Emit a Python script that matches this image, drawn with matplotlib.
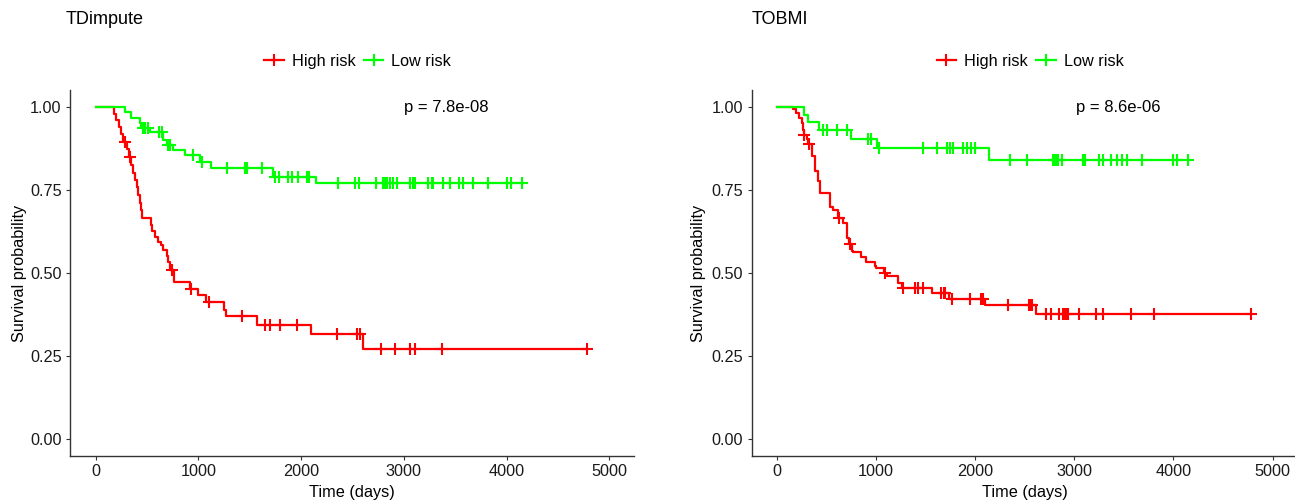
import numpy as np
import matplotlib
matplotlib.use("Agg")
import matplotlib.pyplot as plt
from matplotlib.lines import Line2D

plt.rcParams['font.family'] = ['Liberation Sans', 'DejaVu Sans']

RED = "#FF0000"
GREEN = "#00FF00"

# ---- TDimpute ----
tdi_high_t = [0, 175, 200, 225, 250, 270, 300, 320, 345, 365, 380, 400, 415, 430, 440, 450,
              535, 545, 575, 610, 640, 660, 690, 705, 725, 765, 920, 1000, 1075, 1245, 1270,
              1570, 2095, 2605]
tdi_high_s = [1.0, 0.98, 0.96, 0.94, 0.92, 0.895, 0.875, 0.85, 0.825, 0.80, 0.78, 0.76, 0.735,
              0.71, 0.69, 0.666, 0.645, 0.626, 0.61, 0.595, 0.585, 0.57, 0.55, 0.532, 0.51,
              0.474, 0.452, 0.433, 0.413, 0.39, 0.37, 0.345, 0.315, 0.272]
tdi_high_cens = [285, 330, 740, 925, 1100, 1420, 1650, 1695, 1790, 1960, 2345, 2540, 2570,
                 2780, 2915, 3055, 3110, 3370, 4780]

tdi_low_t = [0, 285, 344, 431, 445, 529, 658, 690, 755, 869, 1015, 1120, 1723, 2145]
tdi_low_s = [1.0, 0.985, 0.966, 0.952, 0.937, 0.924, 0.902, 0.887, 0.87, 0.854, 0.834,
             0.816, 0.79, 0.771]
tdi_low_cens = [463, 483, 512, 616, 643, 707, 723, 944, 1032, 1275, 1453, 1470, 1616, 1745,
                1784, 1875, 1908, 1972, 2054, 2079, 2362, 2524, 2566, 2729, 2794, 2816, 2839,
                2865, 2897, 2936, 3060, 3086, 3108, 3238, 3271, 3286, 3384, 3449, 3540, 3573,
                3676, 3822, 4001, 4040, 4150]

# ---- TOBMI ----
tob_high_t = [0, 167, 195, 228, 252, 270, 275, 302, 318, 353, 386, 419, 437, 537, 571, 620,
              671, 706, 730, 756, 772, 847, 900, 913, 990, 1001, 1080, 1109, 1226, 1260, 1564,
              1737, 2099, 2614]
tob_high_s = [1.0, 0.995, 0.982, 0.967, 0.952, 0.93, 0.915, 0.904, 0.89, 0.852, 0.807, 0.777,
              0.742, 0.70, 0.69, 0.667, 0.652, 0.607, 0.587, 0.566, 0.562, 0.547, 0.533, 0.532,
              0.521, 0.516, 0.50, 0.491, 0.471, 0.456, 0.441, 0.423, 0.403, 0.378]
tob_high_cens = [278, 326, 631, 739, 1090, 1270, 1394, 1427, 1472, 1655, 1682, 1697, 1770,
                 1949, 2060, 2077, 2335, 2546, 2560, 2577, 2717, 2765, 2846, 2889, 2906, 2923,
                 2940, 3047, 3219, 3286, 3571, 3806, 4778]

tob_low_t = [0, 275, 319, 429, 746, 1014, 2143]
tob_low_s = [1.0, 0.977, 0.955, 0.93, 0.903, 0.877, 0.84]
tob_low_cens = [470, 510, 611, 712, 923, 948, 1034, 1472, 1613, 1714, 1747, 1780, 1875, 1915,
                1959, 1999, 2352, 2526, 2782, 2795, 2815, 2839, 2873, 3085, 3108, 3252, 3286,
                3370, 3427, 3478, 3528, 3679, 3992, 4032, 4149]

panels = [
    ("TDimpute", "p = 7.8e-08", 3417, (tdi_high_t, tdi_high_s, tdi_high_cens),
     (tdi_low_t, tdi_low_s, tdi_low_cens)),
    ("TOBMI", "p = 8.6e-06", 3440, (tob_high_t, tob_high_s, tob_high_cens),
     (tob_low_t, tob_low_s, tob_low_cens)),
]

W, H = 1295, 503
fig = plt.figure(figsize=(W / 100, H / 100), dpi=100)
# axes boxes in pixels: left, right, top, bottom
boxes = [(70, 634.3, 90.4, 455.7), (751.7, 1297.5, 90.4, 455.7)]
title_x = [66, 752]
xlims = [(-250, 5243), (-252, 5250)]
ylab_x = [-0.076, -0.0835]


def km(ax, t, s, cens, color):
    t = np.asarray(t, float)
    s = np.asarray(s, float)
    tend = max(cens)
    tt = np.append(t, tend)
    ss = np.append(s, s[-1])
    ax.step(tt, ss, where='post', color=color, lw=1.6, clip_on=False)
    idx = np.searchsorted(t, cens, side='right') - 1
    ax.plot(cens, s[idx], '+', color=color, ms=8, mew=1.5, clip_on=False)


for i, (title, ptxt, px, high, low) in enumerate(panels):
    l, r, tp, b = boxes[i]
    ax = fig.add_axes([l / W, 1 - b / H, (r - l) / W, (b - tp) / H])
    km(ax, *high, RED)
    km(ax, *low, GREEN)
    ax.set_xlim(*xlims[i])
    ax.set_ylim(-0.05, 1.05)
    ax.set_xticks([0, 1000, 2000, 3000, 4000, 5000])
    ax.set_yticks([0, 0.25, 0.5, 0.75, 1.0])
    ax.set_yticklabels(["0.00", "0.25", "0.50", "0.75", "1.00"])
    for sp in ['top', 'right']:
        ax.spines[sp].set_visible(False)
    for sp in ['left', 'bottom']:
        ax.spines[sp].set_color('#333333')
        ax.spines[sp].set_linewidth(1.0)
    ax.tick_params(labelsize=11.7, length=3, width=0.8, color='#333333',
                   labelcolor='#1a1a1a', pad=3)
    ax.set_xlabel("Time (days)", fontsize=11.7)
    ax.set_ylabel("Survival probability", fontsize=11.7)
    ax.xaxis.set_label_coords(0.5, -0.080)
    ax.yaxis.set_label_coords(ylab_x[i], 0.5)
    ax.text(px, 1.0, ptxt, ha='center', va='center', fontsize=12, clip_on=False)
    handles = [Line2D([], [], color=RED, lw=1.6, marker='+', ms=8, mew=1.5),
               Line2D([], [], color=GREEN, lw=1.6, marker='+', ms=8, mew=1.5)]
    ax.legend(handles, ["High risk", "Low risk"], loc='center', bbox_to_anchor=(0.51, 1.080),
              ncol=2, frameon=False, fontsize=11.7, handlelength=1.2, handletextpad=0.5,
              columnspacing=0.5, borderaxespad=0)
    fig.text(title_x[i] / W, 1 - 19 / H, title, fontsize=13, ha='left', va='center')

fig.savefig("out.png", dpi=100)
